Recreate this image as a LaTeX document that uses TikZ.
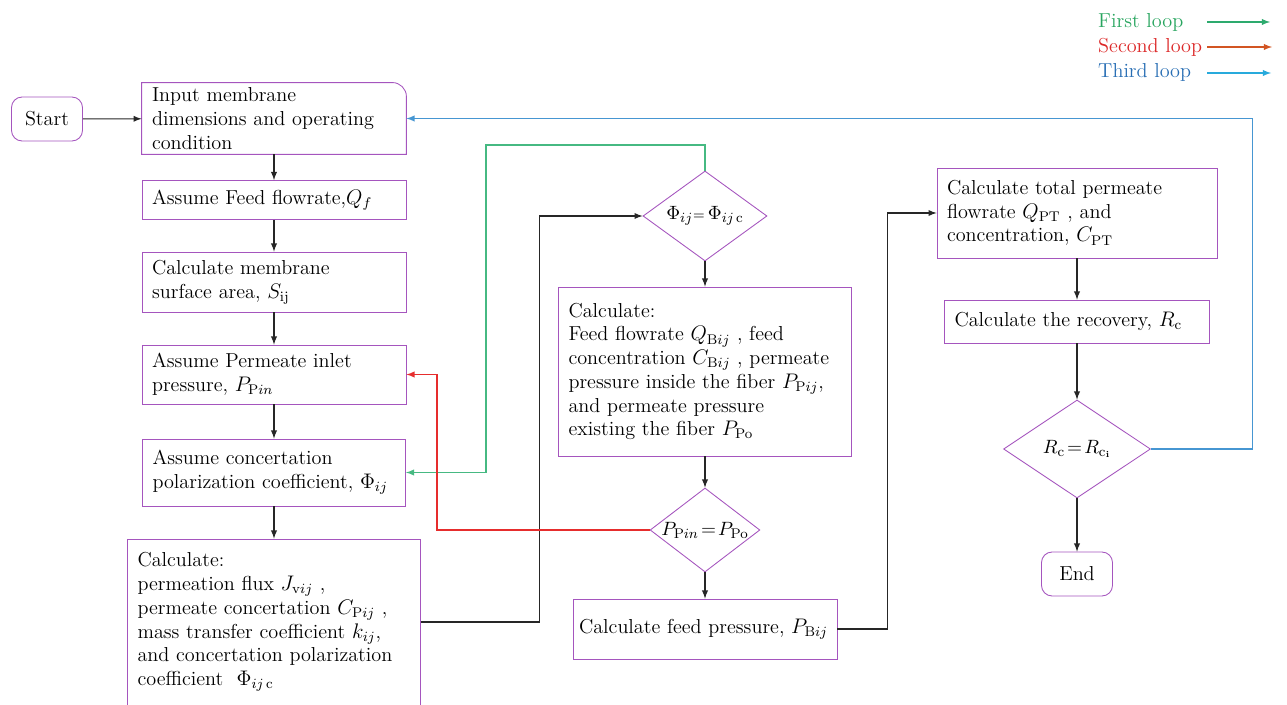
\documentclass[tikz,border=0pt]{standalone}
\usepackage{amsmath, amssymb}
\usepackage{xcolor}
\usepackage{tikz}
\usetikzlibrary{shapes.geometric, positioning}

\definecolor{boxpurple}{RGB}{165,85,190}
\definecolor{loopgreen}{RGB}{40,165,95}
\definecolor{loopred}{RGB}{220,40,40}
\definecolor{loopblue}{RGB}{40,110,180}
\definecolor{arrgreen}{RGB}{45,170,110}
\definecolor{arrred}{RGB}{210,85,35}
\definecolor{arrblue}{RGB}{40,170,220}
\definecolor{linegreen}{RGB}{70,185,130}
\definecolor{linered}{RGB}{230,45,45}
\definecolor{lineblue}{RGB}{70,150,210}

\begin{document}
\begin{tikzpicture}[>=latex, x=0.02cm, y=-0.02cm,
    box/.style={draw=boxpurple, line width=0.5pt, rectangle, align=left,
        inner xsep=0.2cm, inner ysep=0pt, font=\fontsize{11.5}{13.5}\selectfont},
    term/.style={draw=boxpurple, line width=0.5pt, rounded corners=6pt,
        minimum width=1.42cm, minimum height=0.88cm, font=\fontsize{11.5}{13.5}\selectfont},
    decide/.style={draw=boxpurple, line width=0.5pt, diamond, shape aspect=1.4,
        inner sep=0pt, font=\fontsize{11}{13}\selectfont},
    flow/.style={->, line width=0.6pt, draw=black!85},
    legend/.style={anchor=west, font=\fontsize{11.5}{13.5}\selectfont}]
    \useasboundingbox (0,0) rectangle (1287,705);

    % Spalte links
    \node[term] (start) at (47,119) {Start};
    \node[box, draw=none, text width=4.88cm, minimum height=1.42cm] (input) at (274,118.5)
        {Input membrane\\dimensions and operating\\condition};
    \draw[boxpurple, line width=0.5pt] (input.south west) |- ([xshift=-8pt]input.north east)
        arc[start angle=90, end angle=0, radius=8pt] -- (input.south east) -- cycle;
    \node[box, text width=4.88cm, minimum height=0.78cm] (feed) at (274,200)
        {Assume Feed flowrate,$Q_f$};
    \node[box, text width=4.88cm, minimum height=1.2cm] (area) at (274,282)
        {Calculate membrane\\surface area, $S_{\mathrm{ij}}$};
    \node[box, text width=4.88cm, minimum height=1.18cm] (pin) at (274,374.5)
        {Assume Permeate inlet\\pressure, $P_{\mathrm{P}in}$};
    \node[box, text width=4.86cm, minimum height=1.34cm] (phiA) at (274,472.5)
        {Assume concertation\\polarization coefficient, $\Phi_{ij}$};
    \node[box, text width=5.46cm, minimum height=3.32cm] (flux) at (274,622)
        {Calculate:\\permeation flux $J_{\mathrm{v}ij}$ ,\\permeate concertation $C_{\mathrm{P}ij}$ ,\\
         mass transfer coefficient $k_{ij}$,\\and concertation polarization\\
         coefficient \ $\Phi_{ij\,\mathrm{c}}$};

    % Spalte Mitte
    \node[decide, minimum width=2.48cm, minimum height=1.8cm] (phiCheck) at (705,216)
        {$\Phi_{ij}{\scriptstyle=}\,\Phi_{ij\,\mathrm{c}}$};
    \node[box, text width=5.46cm, minimum height=3.38cm] (bulk) at (705,371.5)
        {Calculate:\\Feed flowrate $Q_{\mathrm{B}ij}$ , feed\\concentration $C_{\mathrm{B}ij}$ , permeate\\
         pressure inside the fiber $P_{\mathrm{P}ij}$,\\and permeate pressure\\existing the fiber $P_{\mathrm{Po}}$};
    \node[decide, minimum width=2.18cm, minimum height=1.68cm] (pCheck) at (705,530)
        {$P_{\mathrm{P}in}\!=\!P_{\mathrm{Po}}$};
    \node[box, inner xsep=0.12cm, text width=5.04cm, minimum height=1.2cm] (feedP) at (705,629)
        {Calculate feed pressure, $P_{\mathrm{B}ij}$};

    % Spalte rechts
    \node[box, text width=5.2cm, minimum height=1.8cm] (total) at (1077,213)
        {Calculate total permeate\\flowrate $Q_{\mathrm{PT}}$ , and\\concentration, $C_{\mathrm{PT}}$};
    \node[box, text width=4.9cm, minimum height=0.86cm] (recov) at (1077,321.5)
        {Calculate the recovery, $R_{\mathrm{c}}$};
    \node[decide, minimum width=2.94cm, minimum height=1.96cm] (rCheck) at (1077,449)
        {$R_{\mathrm{c}}\!=\!R_{\mathrm{c}_{\mathbf{i}}}$};
    \node[term] (stop) at (1077,574) {End};

    % Legende
    \node[legend, text=loopgreen] (lgA) at (1092,22) {First loop};
    \node[legend, text=loopred] (lgB) at (1092,47) {Second loop};
    \node[legend, text=loopblue] (lgC) at (1092,72) {Third loop};
    \coordinate (lgA1) at (1207,22);  \coordinate (lgA2) at (1270,22);
    \coordinate (lgB1) at (1207,47);  \coordinate (lgB2) at (1272,47);
    \coordinate (lgC1) at (1207,73);  \coordinate (lgC2) at (1271,73);
    \draw[->, arrgreen, line width=0.6pt] (lgA1) -- (lgA2);
    \draw[->, arrred, line width=0.6pt] (lgB1) -- (lgB2);
    \draw[->, arrblue, line width=0.6pt] (lgC1) -- (lgC2);

    % Pfeile
    \draw[flow] (start) -- (input);
    \draw[flow] (input) -- (feed);
    \draw[flow] (feed) -- (area);
    \draw[flow] (area) -- (pin);
    \draw[flow] (pin) -- (phiA);
    \draw[flow] (phiA) -- (flux);
    \draw[flow] (flux.east) -- ++(119,0) |- (phiCheck.west);
    \draw[flow] (phiCheck) -- (bulk);
    \draw[flow] (bulk) -- (pCheck);
    \draw[flow] (pCheck) -- (feedP);
    \draw[flow] (feedP.east) -- ++(50,0) |- (total.west);
    \draw[flow] (total) -- (recov);
    \draw[flow] (recov) -- (rCheck);
    \draw[flow] (rCheck) -- (stop);

    % Schleifen
    \coordinate (gTop) at (486,145);
    \coordinate (rTurn) at (437,530);
    \draw[->, linegreen, line width=0.6pt] (phiCheck.north) |- (gTop) |- (phiA.east);
    \draw[->, linered, line width=0.6pt] (pCheck.west) -- (rTurn) |- (pin.east);
    \draw[->, lineblue, line width=0.6pt] (rCheck.east) -- ++(102,0) |- (input.east);
\end{tikzpicture}
\end{document}
